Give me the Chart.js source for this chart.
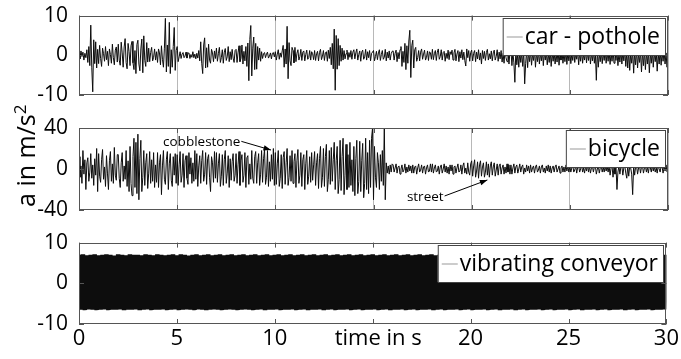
<!DOCTYPE html>
<html>
<head>
<meta charset="utf-8">
<script src="https://cdn.jsdelivr.net/npm/chart.js@4.4.1/dist/chart.umd.min.js"></script>
<style>
  body { margin: 0; background: #fff; }
  #wrap { position: relative; width: 681px; height: 359px; font-family: "Open Sans", sans-serif; }
  canvas { position: absolute; left: 0; }
  #ylab {
    position: absolute; left: 13px; top: 207px;
    transform-origin: 0 0; transform: rotate(-90deg);
    font-size: 25px; line-height: 25px; white-space: nowrap; color: #000;
  }
  #ylab sup { font-size: 17px; line-height: 0; }
</style>
</head>
<body>
<div id="wrap">
  <canvas id="carChart" width="681" height="112" style="top:0px"></canvas>
  <canvas id="bikeChart" width="681" height="115" style="top:112px"></canvas>
  <canvas id="convChart" width="681" height="132" style="top:227px"></canvas>
  <div id="ylab">a in m/s<sup>2</sup></div>
</div>
<script>
// sample spacing of the read-off signals (s)
const dtFine = 0.05;  // car, bicycle
const dtConv = 0.1;   // conveyor

// car - pothole, m/s^2 (one row = 1 s)
const carValues = [
  0.4,-0.9,1.1,-0.3,0.8,-1.2,0.5,-0.6,1.4,-1.8,2.2,-2.6,7.6,-3.0,-9.2,3.9,-2.1,3.4,-3.2,1.5,
  -2.1,2.5,-0.8,-2.8,1.8,0.4,-1.5,2.2,-1.1,1.0,-2.6,1.6,0.2,-2.0,2.8,-0.6,-2.4,1.3,2.1,-1.7,
  2.8,-1.2,-2.5,3.3,0.6,-3.0,2.1,4.2,-1.8,-3.4,3.0,0.9,-2.6,2.4,3.5,-1.9,-3.6,1.2,-4.6,2.7,
  3.8,-2.2,-3.9,1.6,4.1,-4.4,4.9,-1.3,-2.8,3.2,-1.7,1.8,-1.6,0.7,2.0,-1.4,-0.5,1.6,-1.2,0.9,
  -1.8,1.6,0.6,-2.4,2.4,-1.0,-3.0,1.8,9.3,-4.2,2.6,-2.8,8.3,-4.6,1.4,-3.0,2.2,7.0,-3.8,1.2,
  2.2,-1.6,-0.4,0.9,-0.8,0.3,0.7,-0.6,-0.2,0.8,-0.7,0.5,0.6,-0.8,0.2,-0.5,0.9,-0.6,0.3,-0.9,
  0.5,-0.7,1.2,-1.4,3.4,-2.0,-4.6,2.6,4.4,-3.2,1.9,-3.0,2.8,-1.2,-2.0,1.5,0.6,-1.6,1.1,-0.8,
  1.8,-1.5,0.4,2.0,-1.8,-0.6,1.4,-2.0,0.8,1.7,-1.3,-0.4,2.2,-1.6,0.9,-1.1,1.5,-0.7,-1.8,1.2,
  1.5,-1.8,0.6,2.4,-1.6,-0.8,2.6,-2.2,1.0,-1.4,2.2,-2.8,3.1,-6.4,4.0,7.5,-5.2,1.8,4.6,-3.6,
  3.0,-3.5,2.2,-1.2,1.8,-1.5,0.9,-0.8,0.4,0.7,-0.6,0.3,0.8,-0.7,-0.2,0.6,-0.9,0.5,0.7,-0.4,
  0.9,-1.2,0.3,1.4,-1.0,0.6,-0.5,1.1,2.5,-3.0,1.6,-2.2,7.3,-5.9,3.2,-1.4,-2.6,2.0,1.2,-1.9,
  2.0,-1.6,0.5,1.4,-1.2,-0.3,1.5,-1.3,0.8,1.1,-1.4,0.2,1.3,-1.0,-0.6,1.2,-1.2,0.9,0.4,-1.1,
  1.2,-1.3,0.4,1.0,-1.4,0.7,1.5,-1.1,-0.2,1.2,-1.3,0.6,0.9,-1.5,1.3,-0.8,2.0,-2.4,3.0,-3.4,
  6.6,-8.8,5.0,-3.5,4.2,-2.6,2.5,-1.5,1.8,-1.2,1.2,-0.9,0.4,1.3,-1.1,0.7,-0.5,1.2,-1.0,0.8,
  1.4,-0.9,0.6,1.6,-1.2,0.2,1.1,-1.5,0.8,1.3,-1.0,-0.4,1.5,-1.2,0.9,-0.6,1.2,-1.4,0.5,0.8,
  1.2,-1.4,-0.3,1.0,-1.1,0.6,1.4,-1.3,0.2,1.2,-1.0,-0.5,1.5,-1.4,0.8,-0.7,1.1,-1.2,0.4,1.0,
  1.1,-1.2,0.5,1.3,-1.6,0.7,-0.9,1.4,2.2,-2.8,1.0,-1.8,3.0,-3.6,2.4,-2.0,3.6,6.3,-5.6,2.4,
  3.8,-3.2,1.4,2.0,-1.5,-0.6,1.2,-1.4,0.8,1.6,-1.0,0.3,1.3,-1.2,-0.5,1.1,-1.3,0.9,0.6,-1.0,
  1.5,-1.1,0.4,1.2,-1.3,0.8,1.6,-1.0,-0.3,1.4,-1.2,0.7,1.0,-1.5,0.5,-0.8,1.3,-1.1,0.9,0.2,
  1.3,-1.2,0.6,1.5,-1.4,0.3,1.2,-1.6,0.9,-0.7,1.4,-1.1,0.8,-1.3,-2.7,1.6,-0.6,1.2,-1.5,0.7,
  1.3,-1.4,0.5,1.2,-1.6,0.8,-0.9,1.4,-1.2,0.6,-2.2,1.2,-0.8,1.0,-1.3,0.7,1.5,-1.2,0.4,-0.9,
  1.1,-1.4,0.6,1.3,-1.2,-0.3,1.4,-1.5,0.8,-0.9,1.2,-1.7,0.5,-2.0,1.3,-0.6,-1.6,1.0,-2.2,0.9,
  1.4,-2.6,0.8,-1.9,-6.8,1.2,-2.4,0.6,-3.0,1.0,-1.8,0.7,-2.8,1.3,-7.2,-2.0,1.1,-3.1,0.9,-1.6,
  1.2,-2.5,0.4,-1.3,1.4,-3.0,0.8,-1.6,1.1,-2.2,0.6,-1.4,1.3,-2.6,0.9,-1.2,1.0,-2.4,0.5,-1.8,
  1.3,-2.8,0.7,-1.5,1.0,-2.2,0.4,-1.7,1.4,-2.5,0.8,-1.2,1.2,-2.0,0.6,-1.6,1.3,-2.3,0.9,-1.4,
  1.2,-2.1,0.5,-1.3,1.4,-1.8,0.7,-1.0,1.1,-2.4,0.8,-1.5,1.3,-2.0,0.4,-1.2,1.2,-1.9,0.9,-1.3,
  1.4,-2.2,0.6,-1.4,1.1,-2.0,0.8,-6.3,1.3,-3.0,0.5,-1.6,1.2,-2.1,0.7,-1.3,1.4,-2.0,0.9,-1.5,
  1.2,-2.3,0.6,-1.5,1.5,-2.0,0.8,-1.3,1.1,-2.6,0.5,-1.7,1.3,-2.2,0.9,-1.4,1.4,-2.8,0.7,-3.2,
  1.3,-3.8,0.6,-2.0,1.2,-4.5,0.8,-2.4,1.4,-3.2,0.5,-1.8,1.1,-4.2,0.9,-2.6,1.3,-3.6,0.7,-2.2,
  1.2,-4.4,0.6,-2.0,1.4,-3.0,0.8,-1.6,1.2,-4.0,0.5,-2.2,1.3,-2.5,0.9,-1.5,1.1,-2.2,0.6,-3.0,
  1.0
];

// bicycle (cobblestone, then street), m/s^2 (one row = 1 s)
const bikeValues = [
  12,-8,3,-14,18,-5,9,-20,6,11,-12,-3,15,-9,4,-16,10,-6,20,-22,
  15,-7,-13,9,19,-10,2,-17,13,-4,-20,8,17,-12,5,-14,21,-6,-11,14,
  14,-9,-18,6,16,-12,3,-10,18,-17,8,-22,22,-14,-26,12,30,-18,26,-24,
  34,-30,10,28,-22,-8,18,-16,6,15,-19,-4,17,-14,9,-12,16,-18,4,-13,
  16,-18,6,14,-25,3,18,-10,-15,9,17,-20,5,15,-11,-17,12,-6,15,-14,
  14,-16,4,17,-13,-6,15,-18,8,13,-9,-15,16,-5,11,-14,6,-12,18,-10,
  15,-17,3,13,-14,8,18,-12,-5,16,-15,10,14,-8,-22,12,6,-13,17,-9,
  16,-13,5,15,-17,-7,14,-16,9,18,-14,-4,13,-18,10,-11,7,15,-12,-6,
  15,-14,4,17,-16,8,14,-13,-6,16,-18,11,13,-15,5,-10,18,-9,-14,12,
  17,-14,6,15,-16,-5,18,-13,10,19,-15,-8,18,-17,7,-12,14,-10,20,-16,
  16,-15,5,18,-17,-9,14,-19,11,17,-15,6,20,-16,-8,13,-12,18,-14,7,
  15,-18,8,19,-14,-6,16,-17,9,14,-20,5,18,-15,-7,12,-13,16,-11,4,
  17,-16,6,15,-19,10,22,-18,-8,20,-17,12,24,-22,-10,18,-15,21,-12,9,
  26,-20,8,22,-24,-10,28,-21,12,30,-25,-6,24,-20,14,-18,26,-16,9,-22,
  22,-26,10,28,-24,-12,27,-22,8,25,-28,-14,30,-20,16,-24,28,-18,30,40,
  -30,22,-8,-18,16,6,-20,14,-12,18,-16,40,-30,6,-4,3,-5,4,-3,5,
  4,-3,1,5,-4,2,3,-5,0,4,-3,-1,5,-4,2,-3,4,-2,3,-4,
  4,-4,2,3,-5,1,5,-3,-1,4,-4,2,3,-5,1,4,-3,-2,5,-3,
  5,-4,1,4,-3,-2,3,-5,2,4,-4,0,5,-3,3,-4,2,-5,4,-2,
  4,-5,2,3,-4,1,5,-3,-2,4,-5,3,6,-4,1,-5,6,-3,-6,5,
  8,-7,3,9,-8,-2,7,-9,4,8,-7,2,6,-8,-3,7,-6,5,-8,3,
  7,-6,2,6,-7,-1,5,-6,3,5,-5,1,4,-5,2,-4,5,-3,4,-5,
  4,-5,1,5,-4,2,4,-4,0,5,-3,2,4,-5,1,-3,4,-2,3,-4,
  4,-3,1,3,-4,2,4,-3,-1,3,-4,2,4,-3,1,-4,3,-2,4,-3,
  3,-4,1,3,-3,2,4,-3,0,3,-4,1,3,-3,2,-3,4,-2,3,-3,
  3,-3,1,4,-3,-1,3,-4,2,3,-3,0,4,-3,1,-4,3,-2,4,-3,
  3,-4,1,3,-3,2,3,-5,0,3,-4,1,3,-3,2,-3,3,-2,3,-3,
  3,-6,1,3,-8,2,-5,3,-20,-3,3,-5,2,3,-6,1,3,-4,-9,3,
  -7,3,1,-5,-25,3,-6,2,3,-5,1,3,-4,2,3,-4,1,3,-3,2,
  -4,3,1,-3,4,-2,3,-3,1,-4,3,0,-3,3,2,-4,3,-2,4,-3,
  -3
];

// vibrating conveyor, m/s^2 (one row = 1 s)
const convValues = [
  7.0,-6.5,7.1,-6.6,6.9,-6.4,7.0,-6.5,7.1,-6.6,
  6.9,-6.5,7.0,-6.4,7.1,-6.6,7.0,-6.5,6.8,-6.5,
  7.1,-6.4,7.0,-6.6,6.9,-6.5,7.1,-6.5,7.0,-6.4,
  7.0,-6.6,6.9,-6.5,7.1,-6.4,7.0,-6.6,6.9,-6.5,
  7.1,-6.5,7.0,-6.4,6.9,-6.6,7.0,-6.5,7.1,-6.4,
  6.9,-6.6,7.1,-6.5,7.0,-6.4,6.8,-6.5,7.0,-6.6,
  7.1,-6.4,6.9,-6.5,7.0,-6.6,7.1,-6.5,6.9,-6.4,
  7.0,-6.5,7.1,-6.6,6.9,-6.5,7.0,-6.4,7.1,-6.5,
  6.9,-6.6,7.0,-6.5,7.1,-6.4,6.9,-6.5,7.0,-6.6,
  7.1,-6.5,6.9,-6.4,7.0,-6.6,7.1,-6.5,6.9,-6.5,
  7.0,-6.4,7.1,-6.6,6.9,-6.5,7.0,-6.5,7.1,-6.4,
  6.9,-6.6,7.0,-6.5,7.1,-6.4,6.9,-6.6,7.0,-6.5,
  7.1,-6.5,6.9,-6.4,7.0,-6.6,7.1,-6.5,6.9,-6.4,
  7.0,-6.6,7.1,-6.5,6.9,-6.5,7.0,-6.4,7.1,-6.6,
  6.9,-6.5,7.0,-6.4,7.1,-6.6,6.9,-6.5,7.0,-6.5,
  7.1,-6.4,6.9,-6.6,7.0,-6.5,7.1,-6.4,6.9,-6.6,
  7.0,-6.5,7.1,-6.5,6.9,-6.4,7.0,-6.6,7.1,-6.5,
  6.9,-6.4,7.0,-6.6,7.1,-6.5,6.9,-6.5,7.0,-6.4,
  7.1,-6.6,6.9,-6.5,7.0,-6.4,7.1,-6.6,6.9,-6.5,
  7.0,-6.5,7.1,-6.4,6.9,-6.6,7.0,-6.5,7.1,-6.4,
  6.9,-6.6,7.0,-6.5,7.1,-6.5,6.9,-6.4,7.0,-6.6,
  7.1,-6.5,6.9,-6.4,7.0,-6.6,7.1,-6.5,6.9,-6.5,
  7.0,-6.4,7.1,-6.6,6.9,-6.5,7.0,-6.4,7.1,-6.6,
  6.9,-6.5,7.0,-6.5,7.1,-6.4,6.9,-6.6,7.0,-6.5,
  7.1,-6.4,6.9,-6.6,7.0,-6.5,7.1,-6.5,6.9,-6.4,
  7.0,-6.6,7.1,-6.5,6.9,-6.4,7.0,-6.6,7.1,-6.5,
  6.9,-6.5,7.0,-6.4,7.1,-6.6,6.9,-6.5,7.0,-6.4,
  7.1,-6.6,6.9,-6.5,7.0,-6.5,7.1,-6.4,6.9,-6.6,
  7.0,-6.5,7.1,-6.4,6.9,-6.6,7.0,-6.5,7.1,-6.5,
  6.9,-6.4,7.0,-6.6,7.1,-6.5,6.9,-6.5,7.0,-6.4,
  7.0
];

const seriesNames = ["car - pothole", "bicycle", "vibrating conveyor"];
const yLimits = [10, 40, 10];
const xTicks = [0, 5, 10, 15, 20, 25, 30];
const xTitle = "time in s";

// annotations in the bicycle panel
const noteText = ["cobblestone", "street"];
const noteTextPos = [[4.28, 26], [16.7, -27.3]];  // left end of text (s, m/s^2)
const noteTipPos = [[9.78, 18.5], [20.8, -10.7]]; // arrow tip

Chart.defaults.font.family = "'Open Sans', sans-serif";
Chart.defaults.color = "#000";

// box around the plot + inside tick marks
const framePlugin = {
  id: "frame",
  afterDatasetsDraw(chart) {
    const { ctx, chartArea: a, scales } = chart;
    ctx.save();
    ctx.strokeStyle = "#555";
    ctx.lineWidth = 1;
    ctx.strokeRect(Math.round(a.left) + 0.5, Math.round(a.top) + 0.5, Math.round(a.width) - 1, Math.round(a.height) - 1);
    ctx.beginPath();
    xTicks.forEach(v => {
      const x = Math.round(scales.x.getPixelForValue(v)) + 0.5;
      ctx.moveTo(x, a.bottom); ctx.lineTo(x, a.bottom - 5);
      ctx.moveTo(x, a.top); ctx.lineTo(x, a.top + 5);
    });
    scales.y.ticks.forEach(t => {
      const y = Math.round(scales.y.getPixelForValue(t.value)) + 0.5;
      ctx.moveTo(a.left, y); ctx.lineTo(a.left + 5, y);
      ctx.moveTo(a.right, y); ctx.lineTo(a.right - 5, y);
    });
    ctx.stroke();
    ctx.restore();
  }
};

// MATLAB style legend box in the upper right corner
const boxLegendPlugin = {
  id: "boxLegend",
  afterDatasetsDraw(chart) {
    const { ctx, chartArea: a } = chart;
    const label = chart.data.datasets[0].label;
    ctx.save();
    ctx.font = "23px 'Open Sans', sans-serif";
    const tw = ctx.measureText(label).width;
    const h = 37;
    const w = tw + 27;
    const right = Math.round(a.right) - 3;
    const top = Math.round(a.top) + 2;
    const left = right - w;
    ctx.fillStyle = "#fff";
    ctx.fillRect(left, top, w, h);
    ctx.strokeStyle = "#444";
    ctx.lineWidth = 1;
    ctx.strokeRect(left + 0.5, top + 0.5, w, h);
    ctx.strokeStyle = "#999";
    ctx.beginPath();
    ctx.moveTo(left + 4, top + h / 2 + 0.5);
    ctx.lineTo(left + 20, top + h / 2 + 0.5);
    ctx.stroke();
    ctx.fillStyle = "#000";
    ctx.textBaseline = "middle";
    ctx.fillText(label, left + 22, top + h / 2 + 1);
    ctx.restore();
  }
};

// text + arrow notes (only on the bicycle panel)
const notePlugin = {
  id: "notes",
  afterDatasetsDraw(chart) {
    const { ctx, scales } = chart;
    ctx.save();
    ctx.font = "13.5px 'Open Sans', sans-serif";
    ctx.fillStyle = "#000";
    ctx.strokeStyle = "#000";
    ctx.lineWidth = 1;
    ctx.textBaseline = "middle";
    noteText.forEach((txt, i) => {
      const tx = scales.x.getPixelForValue(noteTextPos[i][0]);
      const ty = scales.y.getPixelForValue(noteTextPos[i][1]);
      ctx.fillText(txt, tx, ty);
      const sx = tx + ctx.measureText(txt).width + 1;
      const sy = ty - 1;
      const ex = scales.x.getPixelForValue(noteTipPos[i][0]);
      const ey = scales.y.getPixelForValue(noteTipPos[i][1]);
      ctx.beginPath();
      ctx.moveTo(sx, sy);
      ctx.lineTo(ex, ey);
      ctx.stroke();
      const ang = Math.atan2(ey - sy, ex - sx);
      ctx.beginPath();
      ctx.moveTo(ex, ey);
      ctx.lineTo(ex - 8 * Math.cos(ang - 0.35), ey - 8 * Math.sin(ang - 0.35));
      ctx.lineTo(ex - 8 * Math.cos(ang + 0.35), ey - 8 * Math.sin(ang + 0.35));
      ctx.closePath();
      ctx.fill();
    });
    ctx.restore();
  }
};

function makePanel(id, idx, values, dt, opts) {
  const points = values.map((v, i) => ({ x: i * dt, y: v }));
  const lim = yLimits[idx];
  const plugins = [framePlugin, boxLegendPlugin];
  if (opts.notes) plugins.push(notePlugin);
  return new Chart(document.getElementById(id), {
    type: "line",
    data: {
      datasets: [{
        label: seriesNames[idx],
        data: points,
        borderColor: "#0d0d0d",
        borderWidth: opts.lineWidth || 1,
        pointRadius: 0,
        tension: 0,
        fill: false
      }]
    },
    options: {
      responsive: false,
      animation: false,
      events: [],
      layout: { padding: { left: 0, right: 13, top: opts.padTop, bottom: opts.padBottom } },
      plugins: { legend: { display: false }, tooltip: { enabled: false } },
      scales: {
        x: {
          type: "linear",
          min: 0,
          max: 30,
          afterBuildTicks: s => { s.ticks = xTicks.map(v => ({ value: v })); },
          grid: { display: opts.grid, color: "#b8b8b8", drawTicks: false },
          border: { display: false },
          ticks: {
            display: !!opts.xLabels,
            font: { size: 22 },
            padding: 2,
            maxRotation: 0,
            autoSkip: false,
            callback: v => (v === 15 ? "\u2002" + xTitle : v)
          },
          afterFit: s => { s.height = opts.xLabels ? 28 : 0; }
        },
        y: {
          min: -lim,
          max: lim,
          ticks: { stepSize: lim, font: { size: 21 }, padding: 3 },
          grid: { display: false },
          border: { display: false },
          afterFit: s => { s.width = 79; }
        }
      }
    },
    plugins
  });
}

makePanel("carChart", 0, carValues, dtFine, { padTop: 13, padBottom: 17, grid: true });
makePanel("bikeChart", 1, bikeValues, dtFine, { padTop: 16, padBottom: 17, grid: true, notes: true });
makePanel("convChart", 2, convValues, dtConv, { padTop: 15, padBottom: 7, grid: false, xLabels: true, lineWidth: 4.5 });
</script>
</body>
</html>
